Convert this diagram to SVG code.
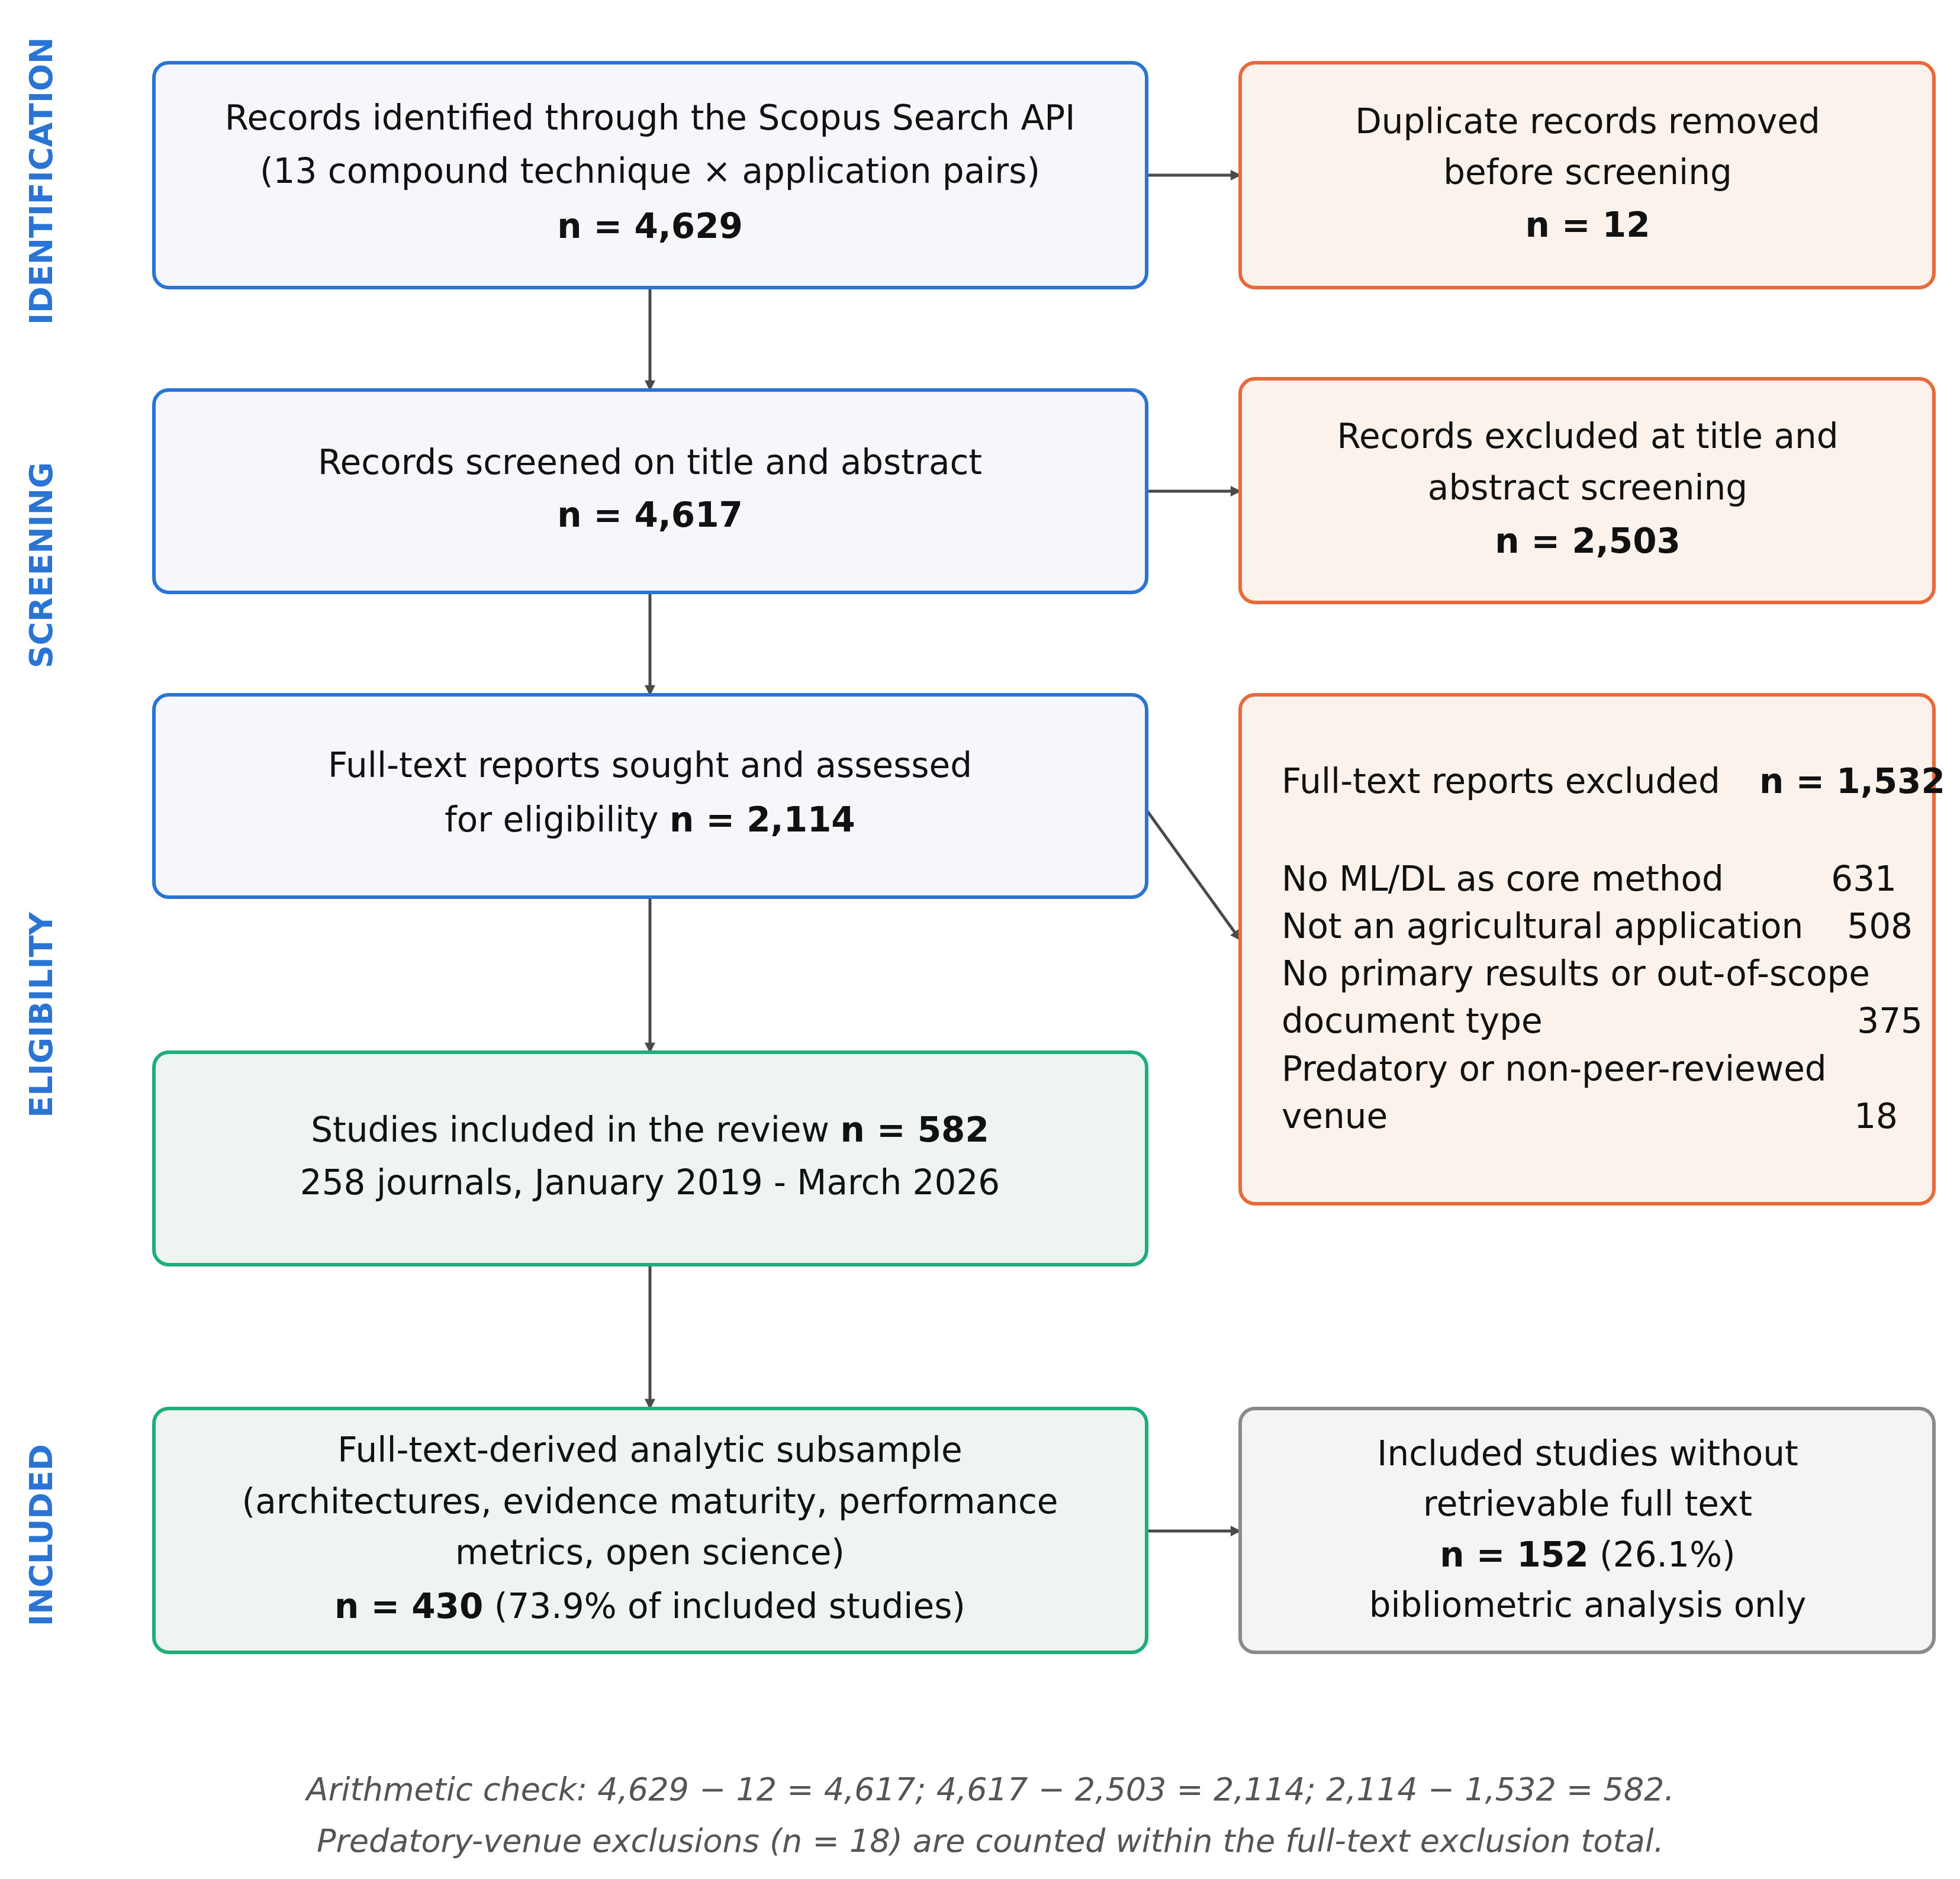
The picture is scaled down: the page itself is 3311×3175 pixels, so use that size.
<svg xmlns="http://www.w3.org/2000/svg" width="3311" height="3175" viewBox="0 0 3311 3175">
<style>
text{font-family:"DejaVu Sans","Liberation Sans",sans-serif;font-size:58px;fill:#111}
.c{text-anchor:middle}
.b{font-weight:bold}
.r{text-anchor:end}
.blue{fill:#f5f7fb;stroke:#2a74d6;stroke-width:6}
.or{fill:#fbf2ec;stroke:#e8693a;stroke-width:6}
.gr{fill:#eef5f1;stroke:#1fae7a;stroke-width:6}
.gy{fill:#f4f4f3;stroke:#8a8a8a;stroke-width:6}
.lab{font-weight:bold;fill:#2a74d6;font-size:54px;text-anchor:middle}
.ft{font-style:italic;fill:#555;font-size:54px;text-anchor:middle}
.ar{stroke:#4a4a4a;stroke-width:5;fill:none;marker-end:url(#m)}
</style>
<defs><marker id="m" viewBox="0 0 10 10" refX="9" refY="5" markerWidth="6" markerHeight="6" orient="auto" markerUnits="userSpaceOnUse" style="overflow:visible"><path d="M0,0 L10,5 L0,10 z" fill="#4a4a4a" transform="scale(3) translate(-6,-3.3)"/></marker></defs>
<rect width="3311" height="3175" fill="#fff"/>
<g id="labels">
<text class="lab" transform="translate(88,306) rotate(-90)">IDENTIFICATION</text>
<text class="lab" transform="translate(88,955) rotate(-90)">SCREENING</text>
<text class="lab" transform="translate(88,1715) rotate(-90)">ELIGIBILITY</text>
<text class="lab" transform="translate(88,2594) rotate(-90)">INCLUDED</text>
</g>
<g id="connectors">
<line class="ar" x1="1098" y1="486" x2="1098" y2="659"/>
<line class="ar" x1="1098" y1="1001" x2="1098" y2="1174"/>
<line class="ar" x1="1098" y1="1516" x2="1098" y2="1778"/>
<line class="ar" x1="1098" y1="2137" x2="1098" y2="2380"/>
<line class="ar" x1="1937" y1="296" x2="2095" y2="296"/>
<line class="ar" x1="1937" y1="830" x2="2095" y2="830"/>
<line class="ar" x1="1937" y1="1369" x2="2095" y2="1588"/>
<line class="ar" x1="1937" y1="2587" x2="2095" y2="2587"/>
</g>
<g id="n1"><rect class="blue" x="260" y="106" width="1677" height="380" rx="25"/>
<text class="c" x="1098" y="219">Records identified through the Scopus Search API</text>
<text class="c" x="1098" y="309">(13 compound technique × application pairs)</text>
<text class="c b" x="1098" y="402">n = 4,629</text></g>
<g id="n1r"><rect class="or" x="2095" y="106" width="1172" height="380" rx="25"/>
<text class="c" x="2682" y="225">Duplicate records removed</text>
<text class="c" x="2682" y="311">before screening</text>
<text class="c b" x="2682" y="400">n = 12</text></g>
<g id="n2"><rect class="blue" x="260" y="659" width="1677" height="342" rx="25"/>
<text class="c" x="1098" y="801">Records screened on title and abstract</text>
<text class="c b" x="1098" y="890">n = 4,617</text></g>
<g id="n2r"><rect class="or" x="2095" y="640" width="1172" height="378" rx="25"/>
<text class="c" x="2682" y="757">Records excluded at title and</text>
<text class="c" x="2682" y="844">abstract screening</text>
<text class="c b" x="2682" y="934">n = 2,503</text></g>
<g id="n3"><rect class="blue" x="260" y="1174" width="1677" height="342" rx="25"/>
<text class="c" x="1098" y="1313">Full-text reports sought and assessed</text>
<text class="c" x="1098" y="1405">for eligibility   <tspan class="b">n = 2,114</tspan></text></g>
<g id="n3r"><rect class="or" x="2095" y="1174" width="1172" height="860" rx="25"/>
<text x="2165" y="1340">Full-text reports excluded</text>
<text class="b" x="2972" y="1340">n = 1,532</text>
<text x="2165" y="1505">No ML/DL as core method</text><text class="r" x="3204" y="1505">631</text>
<text x="2165" y="1585">Not an agricultural application</text><text class="r" x="3231" y="1585">508</text>
<text x="2165" y="1665">No primary results or out-of-scope</text>
<text x="2165" y="1745">document type</text><text class="r" x="3248" y="1745">375</text>
<text x="2165" y="1826">Predatory or non-peer-reviewed</text>
<text x="2165" y="1906">venue</text><text class="r" x="3206" y="1906">18</text></g>
<g id="n4"><rect class="gr" x="260" y="1778" width="1677" height="359" rx="25"/>
<text class="c" x="1098" y="1929">Studies included in the review   <tspan class="b">n = 582</tspan></text>
<text class="c" x="1098" y="2018">258 journals, January 2019 - March 2026</text></g>
<g id="n5"><rect class="gr" x="260" y="2380" width="1677" height="412" rx="25"/>
<text class="c" x="1098" y="2470">Full-text-derived analytic subsample</text>
<text class="c" x="1098" y="2557">(architectures, evidence maturity, performance</text>
<text class="c" x="1098" y="2643">metrics, open science)</text>
<text class="c" x="1098" y="2734"><tspan class="b">n = 430</tspan>   (73.9% of included studies)</text></g>
<g id="n5r"><rect class="gy" x="2095" y="2380" width="1172" height="412" rx="25"/>
<text class="c" x="2682" y="2476">Included studies without</text>
<text class="c" x="2682" y="2561">retrievable full text</text>
<text class="c" x="2682" y="2647"><tspan class="b">n = 152</tspan>   (26.1%)</text>
<text class="c" x="2682" y="2732">bibliometric analysis only</text></g>
<g id="footer">
<text class="ft" x="1673" y="3042">Arithmetic check:  4,629 − 12 = 4,617;   4,617 − 2,503 = 2,114;   2,114 − 1,532 = 582.</text>
<text class="ft" x="1673" y="3129">Predatory-venue exclusions (n = 18) are counted within the full-text exclusion total.</text>
</g>
</svg>
